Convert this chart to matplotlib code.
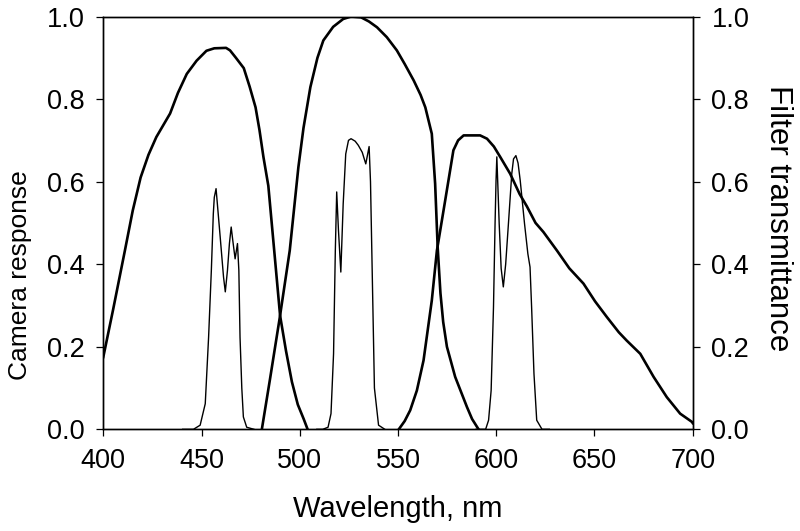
import numpy as np
import matplotlib
matplotlib.use('Agg')
from matplotlib import pyplot as plt

# camera response (thick lines), wavelength in nm
cam_b_wl = [400, 405, 411, 415, 419, 423, 427, 434, 438, 442.5, 447.5, 452.5, 456.5, 462.5,
            464.5, 467.5, 471.5, 474.5, 477.5, 479.5, 481.5, 484, 487, 490, 493, 496, 499, 502, 504]
cam_b = [0.175, 0.29, 0.433, 0.53, 0.61, 0.665, 0.708, 0.765, 0.815, 0.861, 0.893, 0.917, 0.923, 0.924,
         0.918, 0.90, 0.875, 0.83, 0.78, 0.725, 0.66, 0.59, 0.433, 0.275, 0.19, 0.115, 0.06, 0.025, 0.0]

cam_g_wl = [480.7, 484.8, 489.8, 494.9, 499.3, 501.9, 505.4, 509, 512, 517, 522.1, 526.1, 531.2, 535.2,
            539.3, 544.3, 549.4, 553.4, 558, 561.5, 563.9, 567.2, 568.9, 570.2, 571.6, 573, 574.9,
            579.1, 585.1, 587.7, 591]
cam_g = [0.0, 0.12, 0.27, 0.433, 0.635, 0.73, 0.829, 0.9, 0.942, 0.975, 0.994, 1.0, 0.998, 0.988,
         0.974, 0.95, 0.918, 0.885, 0.845, 0.81, 0.78, 0.716, 0.595, 0.44, 0.33, 0.26, 0.2,
         0.127, 0.054, 0.025, 0.0]

cam_r_wl = [550.4, 553.4, 556.2, 559.6, 563, 567.2, 569.8, 574, 578.2, 580.6, 583.4, 587.7, 591.8,
            595.3, 598.8, 602, 607.1, 611.9, 615.6, 620, 624, 630.9, 637.2, 644.4, 650.3, 656.3,
            662.4, 666.4, 673.3, 680.1, 686.8, 693.6, 699.6, 700]
cam_r = [0.0, 0.02, 0.046, 0.094, 0.167, 0.312, 0.433, 0.554, 0.676, 0.70, 0.712, 0.712, 0.712,
         0.704, 0.685, 0.66, 0.619, 0.57, 0.54, 0.5, 0.478, 0.433, 0.39, 0.353, 0.31, 0.272,
         0.235, 0.215, 0.183, 0.127, 0.078, 0.038, 0.018, 0.015]

# filter transmittance (thin lines)
flt_b_wl = [440.4, 445.9, 449.3, 451.9, 453.6, 455, 456, 456.5, 457.4, 459.5, 461.2, 462.1, 463.2,
            464.2, 465.1, 465.9, 467.1, 468.3, 469, 469.6, 470.5, 471.3, 473, 476.7]
flt_b = [0.0, 0.0, 0.01, 0.062, 0.223, 0.385, 0.522, 0.562, 0.583, 0.466, 0.369, 0.333, 0.385,
         0.45, 0.49, 0.458, 0.413, 0.45, 0.385, 0.223, 0.1, 0.03, 0.005, 0.0]

flt_g_wl = [508.7, 511.7, 514.4, 515.9, 517.2, 518.1, 518.8, 519.7, 520.9, 522.1, 523.4, 524.8,
            526.1, 528.2, 529.8, 531.8, 533.6, 535.3, 536, 536.7, 538, 540.1, 543.3]
flt_g = [0.0, 0.0, 0.005, 0.038, 0.183, 0.433, 0.575, 0.482, 0.381, 0.546, 0.667, 0.70,
         0.704, 0.698, 0.688, 0.671, 0.643, 0.685, 0.6, 0.425, 0.1, 0.01, 0.0]

flt_r_wl = [589.7, 594.6, 596.1, 597.4, 598.6, 599.4, 599.9, 600.3, 600.9, 601.5, 602.5, 603.6,
            604.8, 606.2, 607.9, 608.8, 610, 611.1, 612.2, 614.4, 616.1, 617.2, 618, 619.2,
            620.6, 623.3, 627]
flt_r = [0.0, 0.0, 0.022, 0.094, 0.296, 0.498, 0.603, 0.66, 0.58, 0.498, 0.39, 0.345,
         0.40, 0.498, 0.619, 0.655, 0.663, 0.645, 0.603, 0.498, 0.425, 0.393, 0.296, 0.135,
         0.022, 0.0, 0.0]

plt.rcParams['font.family'] = ['Liberation Sans', 'DejaVu Sans']

fig = plt.figure(figsize=(8, 5.31), dpi=100)
ax = fig.add_axes([0.1291, 0.1915, 0.7368, 0.7774])
ax2 = ax.twinx()

for wl, v in [(cam_b_wl, cam_b), (cam_g_wl, cam_g), (cam_r_wl, cam_r)]:
    ax.plot(wl, v, color='black', lw=1.9, solid_joinstyle='round')
for wl, v in [(flt_b_wl, flt_b), (flt_g_wl, flt_g), (flt_r_wl, flt_r)]:
    ax2.plot(wl, v, color='black', lw=1.0, solid_joinstyle='round')

for a in (ax, ax2):
    a.set_xlim(400, 700)
    a.set_ylim(0, 1.0)
    a.set_yticks(np.arange(0, 1.01, 0.2))
    a.yaxis.set_major_formatter(matplotlib.ticker.FormatStrFormatter('%.1f'))
    for s in a.spines.values():
        s.set_linewidth(1.0)
    a.tick_params(direction='out', length=5, width=0.9, pad=8.5, labelsize=19.5)

ax.set_xticks(range(400, 701, 50))
ax.tick_params(axis='x', top=False)
ax2.tick_params(axis='y', right=True, left=False)

ax.set_xlabel('Wavelength, nm', fontsize=21, ha='center', va='center')
ax.xaxis.set_label_coords(0.5, -0.193)
ax.set_ylabel('Camera response', fontsize=19, ha='center', va='center', rotation_mode='anchor')
ax.yaxis.set_label_coords(-0.141, 0.374)
ax2.set_ylabel('Filter transmittance', fontsize=22.5, rotation=270, ha='center', va='center',
               rotation_mode='anchor')
ax2.yaxis.set_label_coords(1.144, 0.512)

fig.savefig('out.png', dpi=100)
